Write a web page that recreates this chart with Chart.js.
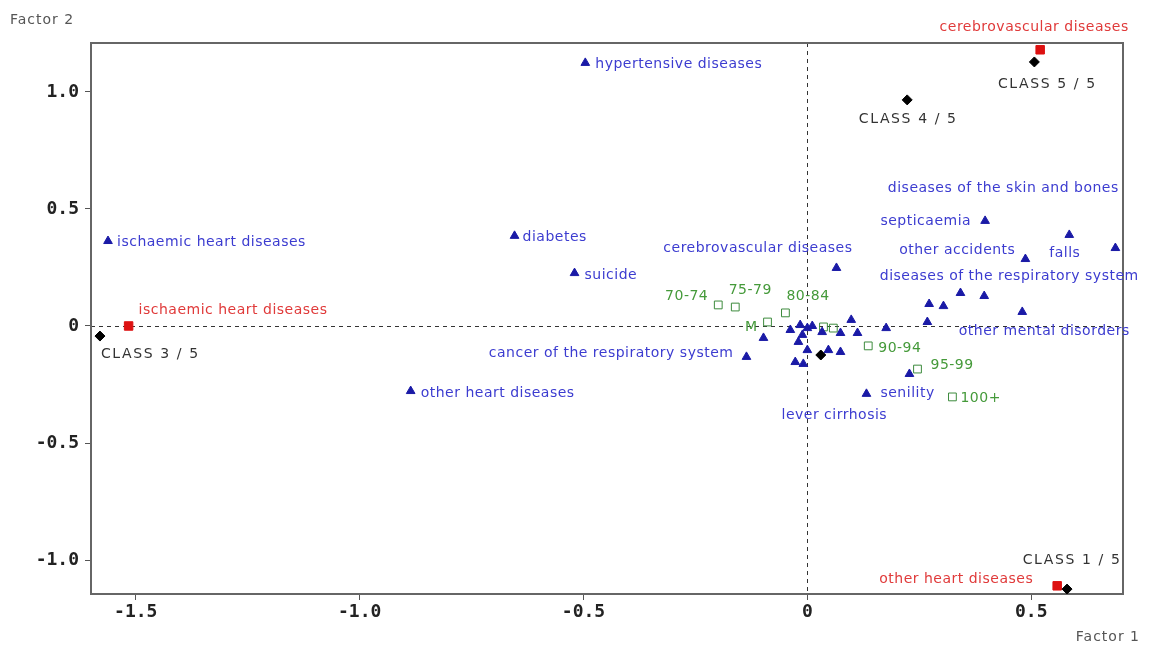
<!DOCTYPE html>
<html>
<head>
<meta charset="utf-8">
<script src="https://cdn.jsdelivr.net/npm/chart.js@4.4.0/dist/chart.umd.min.js"></script>
<style>
  html, body { margin:0; padding:0; background:#fff; }
  #wrap { width:1149px; height:650px; position:relative; }
</style>
</head>
<body>
<div id="wrap"><canvas id="chart"></canvas></div>
<script>
// ======= data =======
const xTicks = [-1.5, -1.0, -0.5, 0, 0.5];
const yTicks = [-1.0, -0.5, 0, 0.5, 1.0];

// causes of death (active, blue triangles)
const causeNames = [
  'hypertensive diseases','ischaemic heart diseases','diabetes','suicide','other heart diseases',
  'cerebrovascular diseases','septicaemia','other accidents','falls','diseases of the skin and bones',
  'diseases of the respiratory system','other mental disorders','cancer of the respiratory system','senility','lever cirrhosis',
  '','','','','','','','','','','','','','','','','','','','',''
];
const causeX = [
  -0.496,-1.562,-0.654,-0.520,-0.886,
  0.065,0.397,0.487,0.688,0.585,
  0.395,0.480,-0.136,0.132,-0.009,
  0.342,0.272,0.304,0.268,0.176,0.112,0.098,0.074,0.033,-0.016,-0.038,0.000,0.011,-0.011,-0.020,-0.098,0.000,0.047,0.074,-0.027,0.228
];
const causeY = [
  1.124,0.363,0.385,0.226,-0.278,
  0.248,0.449,0.286,0.333,0.389,
  0.128,0.060,-0.132,-0.290,-0.162,
  0.141,0.094,0.085,0.017,-0.009,-0.030,0.026,-0.030,-0.026,0.004,-0.017,-0.009,0.000,-0.038,-0.068,-0.051,-0.103,-0.103,-0.111,-0.154,-0.205
];

// illustrative causes (red squares)
const redNames = ['cerebrovascular diseases','ischaemic heart diseases','other heart diseases'];
const redX = [0.520, -1.516, 0.558];
const redY = [1.180, 0.000, -1.110];

// class centroids (black diamonds)
const classNames = ['CLASS 5 / 5','CLASS 4 / 5','CLASS 3 / 5','CLASS 1 / 5',''];
const classX = [0.507, 0.223, -1.580, 0.580, 0.030];
const classY = [1.128, 0.966, -0.043, -1.124, -0.124];

// age / sex (green hollow squares)
const ageNames = ['70-74','75-79','80-84','M','','','90-94','95-99','100+'];
const ageX = [-0.199, -0.161, -0.049, -0.089, 0.036, 0.058, 0.136, 0.246, 0.324];
const ageY = [0.090, 0.081, 0.056, 0.017, -0.004, -0.009, -0.085, -0.184, -0.303];

// ======= label placement (align, dx, dy in px relative to the point) =======
const labelPlace = {
  cause: {
    'hypertensive diseases':['left',10,1], 'ischaemic heart diseases':['left',9,1], 'diabetes':['left',8,1],
    'suicide':['left',10,2], 'other heart diseases':['left',10,2], 'cerebrovascular diseases':['right',16,-20],
    'septicaemia':['right',-14,0], 'other accidents':['right',-10,-9], 'falls':['right',-35,5],
    'diseases of the skin and bones':['center',-66,-47], 'diseases of the respiratory system':['center',25,-20],
    'other mental disorders':['center',22,19], 'cancer of the respiratory system':['right',-13,-4],
    'senility':['left',14,-1], 'lever cirrhosis':['center',31,51]
  },
  red: {
    'cerebrovascular diseases':['center',-6,-22], 'ischaemic heart diseases':['left',10,-16],
    'other heart diseases':['right',-24,-6]
  },
  cls: {
    'CLASS 5 / 5':['center',13,22], 'CLASS 4 / 5':['center',1,19],
    'CLASS 3 / 5':['left',1,18], 'CLASS 1 / 5':['center',5,-29]
  },
  age: {
    '70-74':['right',-10,-9], '75-79':['center',15,-17], '80-84':['left',1,-17], 'M':['right',-10,5],
    '90-94':['left',10,2], '95-99':['left',13,-4], '100+':['left',8,1]
  }
};

function pts(xs, ys){ return xs.map((x,i)=>({x, y: ys[i]})); }

// ======= plugins =======
const framePlugin = {
  id:'frame',
  beforeDatasetsDraw(chart){
    const {ctx, chartArea:a, scales:{x, y}} = chart;
    ctx.save();
    // dashed zero lines
    ctx.strokeStyle = '#333'; ctx.lineWidth = 1; ctx.setLineDash([4,4]);
    const x0 = Math.round(x.getPixelForValue(0)) + 0.5;
    const y0 = Math.round(y.getPixelForValue(0)) + 0.5;
    ctx.beginPath(); ctx.moveTo(x0, a.top); ctx.lineTo(x0, a.bottom); ctx.stroke();
    ctx.beginPath(); ctx.moveTo(a.left, y0); ctx.lineTo(a.right, y0); ctx.stroke();
    ctx.setLineDash([]);
    // box
    ctx.strokeStyle = '#666'; ctx.lineWidth = 2;
    ctx.strokeRect(a.left, a.top, a.right - a.left, a.bottom - a.top);
    ctx.restore();
  },
  afterDraw(chart){
    const {ctx} = chart;
    ctx.save();
    ctx.fillStyle = '#555';
    ctx.font = '14px "DejaVu Sans"';
    ctx.letterSpacing = '1px';
    ctx.textBaseline = 'middle';
    ctx.textAlign = 'left';
    ctx.fillText('Factor 2', 10, 20);
    ctx.textAlign = 'right';
    ctx.fillText('Factor 1', 1140, 637);
    ctx.restore();
  }
};

const labelPlugin = {
  id:'pointLabels',
  afterDatasetsDraw(chart){
    const {ctx} = chart;
    ctx.save();
    ctx.font = '14px "DejaVu Sans"';
    ctx.textBaseline = 'middle';
    chart.data.datasets.forEach((ds, di)=>{
      const meta = chart.getDatasetMeta(di);
      const place = labelPlace[ds.key];
      ctx.letterSpacing = ds.key === 'cls' ? '1.6px' : '0.5px';
      ds.names.forEach((name, i)=>{
        if(!name || !place[name]) return;
        const [align, dx, dy] = place[name];
        const el = meta.data[i];
        ctx.fillStyle = ds.textColor;
        ctx.textAlign = align;
        ctx.fillText(name, el.x + dx, el.y + dy);
      });
    });
    ctx.restore();
  }
};

// ======= chart =======
const tickFont = { family:'"DejaVu Sans Mono"', size:18, weight:'bold' };
const fmt = v => v === 0 ? '0' : v.toFixed(1);

new Chart(document.getElementById('chart'), {
  type:'scatter',
  data:{
    datasets:[
      { key:'cause', names:causeNames, textColor:'#3c3cd0', data:pts(causeX, causeY),
        pointStyle:'triangle', pointRadius:5, backgroundColor:'#1a1aa6', borderColor:'#1a1aa6', borderWidth:1 },
      { key:'age', names:ageNames, textColor:'#459a3a', data:pts(ageX, ageY),
        pointStyle:'rect', pointRadius:5.5, backgroundColor:'rgba(255,255,255,0)', borderColor:'#3d8b3d', borderWidth:1 },
      { key:'cls', names:classNames, textColor:'#333', data:pts(classX, classY),
        pointStyle:'rectRot', pointRadius:5, backgroundColor:'#000', borderColor:'#000', borderWidth:1 },
      { key:'red', names:redNames, textColor:'#e03a3a', data:pts(redX, redY),
        pointStyle:'rect', pointRadius:6, backgroundColor:'#dd1111', borderColor:'#dd1111', borderWidth:1 }
    ]
  },
  options:{
    responsive:true,
    maintainAspectRatio:false,
    animation:false,
    layout:{ padding:{ top:43, right:26, left:0, bottom:0 } },
    plugins:{ legend:{display:false}, tooltip:{enabled:false} },
    scales:{
      x:{
        type:'linear', min:-1.6, max:0.705,
        afterBuildTicks: s => { s.ticks = xTicks.map(v=>({value:v})); },
        afterFit: s => { s.height = 56; },
        grid:{ drawOnChartArea:false, tickLength:6, color:'#555' },
        border:{ color:'#666', width:2 },
        ticks:{ font:tickFont, color:'#222', padding:2, callback:fmt, maxRotation:0 }
      },
      y:{
        type:'linear', min:-1.145, max:1.209,
        afterBuildTicks: s => { s.ticks = yTicks.map(v=>({value:v})); },
        afterFit: s => { s.width = 91; },
        grid:{ drawOnChartArea:false, tickLength:6, color:'#555' },
        border:{ color:'#666', width:2 },
        ticks:{ font:tickFont, color:'#222', padding:6, callback:fmt }
      }
    }
  },
  plugins:[framePlugin, labelPlugin]
});
</script>
</body>
</html>
